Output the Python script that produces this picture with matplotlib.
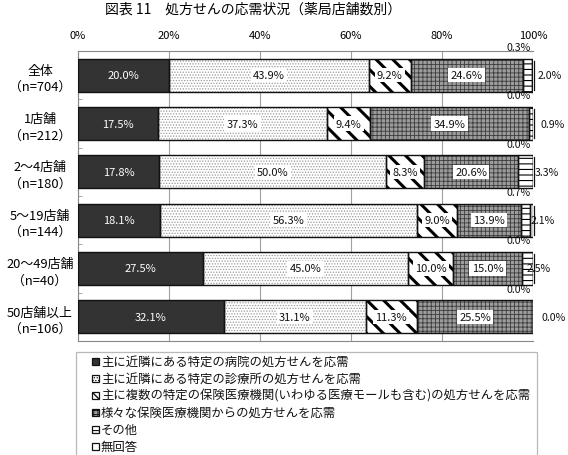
import matplotlib
matplotlib.use("Agg")
import matplotlib.pyplot as plt
from matplotlib.patches import Rectangle
import numpy as np

plt.rcParams['font.family'] = ['Noto Sans CJK JP', 'DejaVu Sans']

title = "図表 11　処方せんの応需状況（薬局店舗数別）"
categories = ["全体\n（n=704）", "1店舗\n（n=212）", "2〜4店舗\n（n=180）",
              "5〜19店舗\n（n=144）", "20〜49店舗\n（n=40）", "50店舗以上\n（n=106）"]
series_names = ["主に近隣にある特定の病院の処方せんを応需",
                "主に近隣にある特定の診療所の処方せんを応需",
                "主に複数の特定の保険医療機関(いわゆる医療モールも含む)の処方せんを応需",
                "様々な保険医療機関からの処方せんを応需",
                "その他",
                "無回答"]
hospital = [20.0, 17.5, 17.8, 18.1, 27.5, 32.1]
clinic = [43.9, 37.3, 50.0, 56.3, 45.0, 31.1]
multiple = [9.2, 9.4, 8.3, 9.0, 10.0, 11.3]
various = [24.6, 34.9, 20.6, 13.9, 15.0, 25.5]
other = [2.0, 0.9, 3.3, 2.1, 2.5, 0.0]
no_answer = [0.3, 0.0, 0.0, 0.7, 0.0, 0.0]
xticks = [0, 20, 40, 60, 80, 100]

series = [hospital, clinic, multiple, various, other, no_answer]
# (face, hatch, hatch colour, hatch lw)
styles = [
    ("#333333", None, "#333333", 1.0),
    ("#ffffff", "......", "#9a9a9a", 0.6),
    ("#ffffff", "\\\\", "#000000", 2.2),
    ("#9c9c9c", "++++", "#3c3c3c", 0.6),
    ("#ffffff", "---", "#000000", 0.8),
    ("#ffffff", None, "#000000", 1.0),
]

W, H = 568, 456
fig = plt.figure(figsize=(W / 100, H / 100), dpi=100)
ax = fig.add_axes([78 / W, 1 - 342 / H, (533 - 78) / W, (342 - 52) / H])

y = np.arange(len(categories))
bh = 0.68
left = np.zeros(len(categories))
for vals, (fc, hatch, hc, hlw) in zip(series, styles):
    vals = np.array(vals)
    with plt.rc_context({'hatch.linewidth': hlw}):
        ax.barh(y, vals, left=left, height=bh, color=fc, hatch=hatch,
                edgecolor=hc, linewidth=0, zorder=2)
    ax.barh(y, vals, left=left, height=bh, fill=False, edgecolor="#111111",
            linewidth=1.0, zorder=3)
    left = left + vals

# value labels for main segments
left = np.zeros(len(categories))
for si, vals in enumerate(series[:4]):
    for i, v in enumerate(vals):
        cx = left[i] + v / 2
        if si == 0:
            ax.text(cx, i, f"{v:.1f}%", ha="center", va="center", color="white",
                    fontsize=8, zorder=5)
        else:
            ax.text(cx, i, f"{v:.1f}%", ha="center", va="center", color="#111111",
                    fontsize=8, zorder=5,
                    bbox=dict(boxstyle="square,pad=0.2", fc="white", ec="none"))
    left = left + np.array(vals)

# その他 labels (right of bars) and 無回答 labels (above bars)
other_x = [101.1, 101.6, 100.4, 99.4, 98.7, 101.8]
for i, v in enumerate(other):
    ax.text(other_x[i], i, f"{v:.1f}%", ha="left", va="center", fontsize=7.6,
            color="#111111", zorder=5, clip_on=False)
    if v > 0:
        ax.plot([100.2, 100.2], [i - 0.3, i + 0.3], color="#111111", lw=0.9,
                zorder=4, clip_on=False)
for i, v in enumerate(no_answer):
    ax.text(96.8, i - 0.58, f"{v:.1f}%", ha="center", va="center", fontsize=7.6,
            color="#111111", zorder=5, clip_on=False)

ax.set_xlim(0, 100)
ax.set_ylim(5.45, -0.5)
ax.set_xticks(xticks)
ax.set_xticklabels([f"{t}%" for t in xticks], fontsize=8)
ax.xaxis.tick_top()
ax.tick_params(axis="x", length=0, pad=8)
ax.set_yticks(y)
ax.set_yticklabels(categories, fontsize=9.3, linespacing=1.35, ha="center")
ax.tick_params(axis="y", length=0, pad=27.4)
ax.set_yticks(np.arange(-0.5, 6, 1.0), minor=True)
ax.tick_params(axis="y", which="minor", direction="in", length=3, color="#999999")
ax.grid(axis="x", color="#a0a0a0", linewidth=0.8, zorder=0)
ax.spines["right"].set_visible(False)
for s in ["top", "bottom", "left"]:
    ax.spines[s].set_color("#888888")
    ax.spines[s].set_linewidth(0.8)

fig.text(253 / W, 1 - 10 / H, title, ha="center", va="center", fontsize=10)

# legend (manual, box reaches bottom edge)
fig.patches.append(Rectangle((76 / W, -0.01), (537 - 76) / W, (1 - 353 / H) + 0.01,
                             transform=fig.transFigure, fill=False,
                             edgecolor="#b8b8b8", linewidth=0.9))
for k, (name, (fc, hatch, hc, hlw)) in enumerate(zip(series_names, styles)):
    yc = 362 + 17 * k
    with plt.rc_context({'hatch.linewidth': min(hlw, 1.0)}):
        fig.patches.append(Rectangle((92 / W, 1 - (yc + 3.5) / H), 7 / W, 7 / H,
                                     transform=fig.transFigure, facecolor=fc,
                                     hatch=hatch, edgecolor="#111111",
                                     linewidth=0.9))
    fig.text(101 / W, 1 - yc / H, name, ha="left", va="center", fontsize=8.9,
             color="#111111")

fig.savefig("out.png", dpi=100)
